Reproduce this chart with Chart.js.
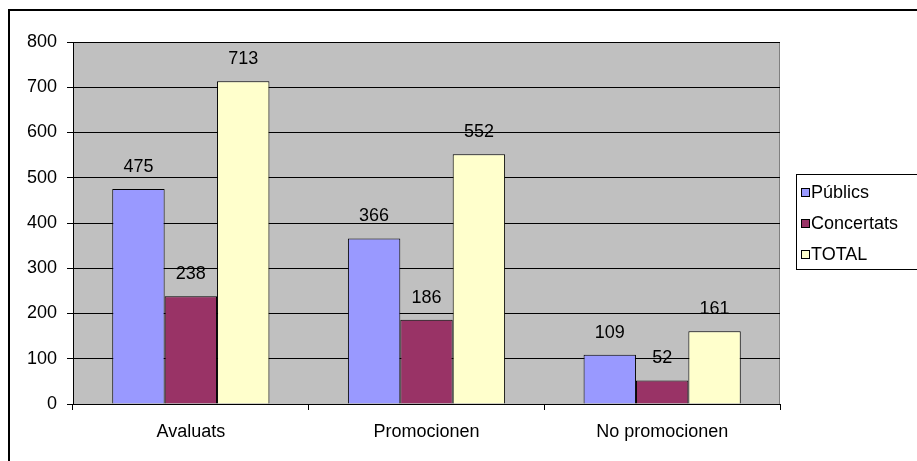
<!DOCTYPE html>
<html>
<head>
<meta charset="utf-8">
<script src="https://cdn.jsdelivr.net/npm/chart.js@4"></script>
<style>
  body { margin: 0; background: #fff; }
  #wrap { width: 917px; height: 461px; }
</style>
</head>
<body>
<div id="wrap"><canvas id="grafic" width="917" height="461"></canvas></div>
<script>
const categories = ['Avaluats', 'Promocionen', 'No promocionen'];
const publics = [475, 366, 109];
const concertats = [238, 186, 52];
const total = [713, 552, 161];
const yTicks = [0, 100, 200, 300, 400, 500, 600, 700, 800];

const FONT = 'Arial, "Liberation Sans", sans-serif';
const FSIZE = 18;

// fons gris de l'àrea del gràfic, vora superior/dreta i marc exterior
const plotBackground = {
    id: 'plotBackground',
    beforeDraw(chart) {
        const c = chart.ctx, a = chart.chartArea;
        c.save();
        c.fillStyle = '#fff';
        c.fillRect(0, 0, chart.width, chart.height);
        c.strokeStyle = '#000';
        c.lineWidth = 2;
        c.strokeRect(9, 10, chart.width + 20, chart.height + 20);
        c.fillStyle = '#C0C0C0';
        c.fillRect(a.left, a.top, a.right - a.left, a.bottom - a.top);
        c.strokeStyle = '#808080';
        c.lineWidth = 1;
        c.beginPath();
        c.moveTo(a.left, a.top + 0.5);
        c.lineTo(a.right - 0.5, a.top + 0.5);
        c.lineTo(a.right - 0.5, a.bottom);
        c.stroke();
        c.restore();
    }
};

// valors damunt de cada barra
const barLabels = {
    id: 'barLabels',
    afterDatasetsDraw(chart) {
        const c = chart.ctx;
        c.save();
        c.font = FSIZE + 'px ' + FONT;
        c.fillStyle = '#000';
        c.textAlign = 'center';
        c.textBaseline = 'middle';
        chart.data.datasets.forEach((ds, i) => {
            chart.getDatasetMeta(i).data.forEach((bar, j) => {
                c.fillText(ds.data[j], bar.x, bar.y - 22);
            });
        });
        c.restore();
    }
};

// llegenda amb requadre, a la dreta
const boxLegend = {
    id: 'boxLegend',
    afterDraw(chart) {
        const c = chart.ctx, a = chart.chartArea;
        const left = a.right + 16, top = 174;
        c.save();
        c.fillStyle = '#fff';
        c.fillRect(left, top, 200, 95);
        c.strokeStyle = '#000';
        c.lineWidth = 1;
        c.strokeRect(left + 0.5, top + 0.5, 200, 95);
        c.font = FSIZE + 'px ' + FONT;
        c.textBaseline = 'middle';
        chart.data.datasets.forEach((ds, i) => {
            const y = top + 18 + i * 31;
            c.fillStyle = ds.backgroundColor;
            c.fillRect(left + 5.5, y - 3.5, 8, 8);
            c.strokeStyle = '#000';
            c.strokeRect(left + 5.5, y - 3.5, 8, 8);
            c.fillStyle = '#000';
            c.fillText(ds.label, left + 15, y + 1);
        });
        c.restore();
    }
};

new Chart(document.getElementById('grafic').getContext('2d'), {
    type: 'bar',
    data: {
        labels: categories,
        datasets: [
            { label: 'Públics', data: publics, backgroundColor: '#9999FF', borderColor: '#000', borderWidth: 1 },
            { label: 'Concertats', data: concertats, backgroundColor: '#993366', borderColor: '#000', borderWidth: 1 },
            { label: 'TOTAL', data: total, backgroundColor: '#FFFFCC', borderColor: '#000', borderWidth: 1 }
        ]
    },
    options: {
        responsive: false,
        animation: false,
        layout: { padding: { left: 0, top: 42, right: 137, bottom: 0 } },
        datasets: { bar: { categoryPercentage: 0.667, barPercentage: 1 } },
        plugins: { legend: { display: false }, tooltip: { enabled: false } },
        scales: {
            x: {
                afterFit: s => { s.height = 57; },
                grid: { offset: true, drawOnChartArea: false, drawTicks: true, tickLength: 6, color: '#000' },
                border: { color: '#000', width: 1 },
                ticks: { color: '#000', font: { family: FONT, size: FSIZE }, padding: 11, maxRotation: 0 }
            },
            y: {
                min: 0,
                max: 800,
                afterFit: s => { s.width = 73; },
                afterBuildTicks: s => { s.ticks = yTicks.map(v => ({ value: v })); },
                grid: { color: '#000', tickLength: 6, drawTicks: true },
                border: { color: '#000', width: 1 },
                ticks: { color: '#000', font: { family: FONT, size: FSIZE }, padding: 10 }
            }
        }
    },
    plugins: [plotBackground, barLabels, boxLegend]
});
</script>
</body>
</html>
